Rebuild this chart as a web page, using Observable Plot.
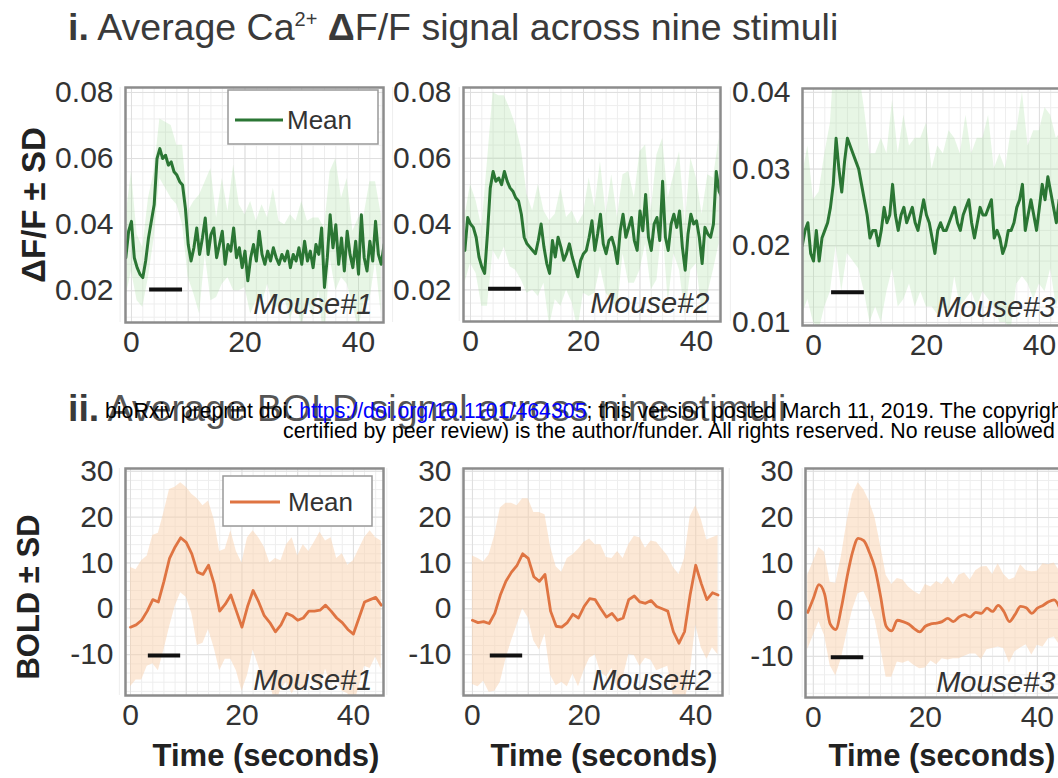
<!DOCTYPE html>
<html><head><meta charset="utf-8">
<script src="https://cdn.jsdelivr.net/npm/d3@7"></script>
<script src="https://cdn.jsdelivr.net/npm/@observablehq/plot@0.6"></script>
<style>
body{margin:0;background:#fff;}
#wrap{position:relative;width:1058px;height:778px;overflow:hidden;background:#fff;}
</style></head><body><div id="wrap"></div>
<script>
const FONT = '"Liberation Sans", Arial, Helvetica, sans-serif';

// ---------------- DATA ----------------
const titleCa = ["i.", " Average Ca", "2+", "Δ", "F/F signal across nine stimuli"];
const titleBold = ["ii.", " Average BOLD signal across nine stimuli"];
const watermark1 = ["bioRxiv preprint doi: ", "https://doi.org/10.1101/464305", "; this version posted March 11, 2019. The copyright holder for this preprint (which was not"];
const watermark2 = "certified by peer review) is the author/funder. All rights reserved. No reuse allowed without permission.";
const yTitleCa = "ΔF/F ± SD";
const yTitleBold = "BOLD ± SD";
const xTitle = "Time (seconds)";
const legendLabel = "Mean";
const mouseLabels = ["Mouse#1", "Mouse#2", "Mouse#3"];
const xTicks = [0, 20, 40];
const yTicksCa12 = [0.02, 0.04, 0.06, 0.08];
const yTicksCa3 = [0.01, 0.02, 0.03, 0.04];
const yTicksBold = [-10, 0, 10, 20, 30];
const stimulus = [3.2, 9.0];          // stimulus period (s), black bar

// Ca2+ dF/F mean, sampled every 0.5 s; SD sampled every 1 s
const caStep = 0.5;
const caStart = [-1, -1, -2];
const ca1Mean = [0.030,0.038,0.041,0.030,0.027,0.025,0.024,0.029,0.036,0.041,
 0.046,0.060,0.063,0.060,0.061,0.058,0.059,0.056,0.055,0.053,
 0.052,0.045,0.034,0.029,0.033,0.039,0.031,0.036,0.042,0.031,
 0.037,0.039,0.030,0.034,0.038,0.028,0.034,0.032,0.039,0.030,
 0.033,0.027,0.032,0.023,0.030,0.034,0.029,0.038,0.031,0.028,
 0.032,0.029,0.033,0.030,0.028,0.031,0.029,0.032,0.027,0.031,
 0.029,0.033,0.028,0.035,0.029,0.032,0.027,0.034,0.031,0.039,
 0.021,0.030,0.043,0.033,0.040,0.028,0.036,0.026,0.038,0.031,
 0.027,0.035,0.025,0.043,0.030,0.026,0.035,0.029,0.041,0.031,
 0.028,0.034];
const ca1SD = [0.012,0.015,0.010,0.009,0.012,0.010,0.009,0.010,0.011,0.009,0.012,0.010,
 0.014,0.018,0.011,0.020,0.012,0.016,0.010,0.019,0.013,0.011,
 0.017,0.012,0.015,0.010,0.018,0.013,0.011,0.016,0.012,0.019,
 0.012,0.015,0.011,0.018,0.013,0.020,0.012,0.016,0.011,0.017,
 0.013,0.018,0.012,0.015];
const ca2Mean = [0.032,0.042,0.040,0.039,0.036,0.030,0.027,0.025,0.037,0.051,
 0.056,0.053,0.054,0.052,0.056,0.053,0.051,0.050,0.048,0.047,
 0.043,0.036,0.034,0.033,0.032,0.031,0.035,0.040,0.033,0.028,
 0.025,0.035,0.030,0.036,0.033,0.029,0.031,0.034,0.030,0.027,
 0.024,0.029,0.031,0.032,0.036,0.041,0.032,0.037,0.043,0.034,
 0.031,0.035,0.036,0.033,0.028,0.038,0.043,0.036,0.039,0.042,
 0.035,0.032,0.044,0.038,0.049,0.036,0.032,0.040,0.042,0.035,
 0.053,0.036,0.032,0.040,0.043,0.039,0.044,0.033,0.026,0.037,
 0.043,0.040,0.041,0.036,0.028,0.039,0.037,0.036,0.040,0.056,
 0.050,0.048];
const ca2SD = [0.010,0.012,0.011,0.012,0.022,0.024,0.025,0.023,0.024,0.022,0.020,0.015,
 0.012,0.017,0.011,0.016,0.013,0.018,0.011,0.014,0.016,0.012,
 0.018,0.013,0.016,0.012,0.019,0.014,0.012,0.017,0.013,0.018,
 0.015,0.012,0.019,0.013,0.016,0.012,0.018,0.014,0.017,0.013,
 0.015,0.018,0.014,0.016];
const ca3Mean = [0.020,0.022,0.023,0.019,0.018,0.022,0.018,0.021,0.022,0.023,
 0.025,0.028,0.034,0.030,0.027,0.031,0.034,0.033,0.032,0.031,
 0.030,0.028,0.026,0.024,0.021,0.022,0.022,0.020,0.022,0.025,
 0.023,0.024,0.028,0.024,0.022,0.024,0.025,0.023,0.024,0.025,
 0.023,0.022,0.024,0.026,0.024,0.023,0.021,0.019,0.022,0.023,
 0.022,0.022,0.023,0.024,0.025,0.023,0.022,0.024,0.025,0.026,
 0.023,0.021,0.023,0.025,0.024,0.024,0.025,0.026,0.021,0.022,
 0.021,0.019,0.020,0.022,0.022,0.023,0.025,0.026,0.028,0.022,
 0.024,0.026,0.024,0.022,0.025,0.028,0.026,0.029,0.027,0.025,
 0.023,0.026,0.025,0.024];
const ca3SD = [0.009,0.010,0.008,0.009,0.010,0.011,0.014,0.013,0.015,0.014,0.013,0.012,0.011,
 0.010,0.012,0.009,0.011,0.010,0.012,0.009,0.011,0.010,
 0.012,0.009,0.011,0.010,0.012,0.009,0.010,0.012,0.009,0.011,
 0.010,0.012,0.009,0.011,0.010,0.013,0.010,0.012,0.009,0.011,
 0.010,0.012,0.010,0.011,0.010];

// BOLD mean and SD, sampled every 1 s
const boldStart = [0, 0, -1];
const bold1Mean = [-4.0,-3.5,-2.5,-0.5,2.0,1.5,6.0,11.0,13.5,15.5,14.5,12.0,8.0,7.5,9.5,5.5,-0.5,1.0,3.0,-0.5,
 -4.0,0.5,4.0,1.5,-1.5,-3.0,-5.0,-3.5,-1.0,-1.5,-2.5,-2.0,-0.5,-0.5,-0.3,0.8,-0.5,-2.0,-3.0,-4.5,
 -5.5,-2.0,1.5,2.0,2.5,0.8];
const bold1SD = [13,12,13,12,14,15,15,15,13,12,12,13,16,15,14,14,13,12,14,13,14,15,13,14,15,13,16,14,15,17,
 14,16,13,15,17,14,16,13,15,14,16,15,14,15,13,14];
const bold2Mean = [-2.5,-3.0,-2.8,-3.2,-1.0,3.0,6.0,8.0,9.5,12.0,11.0,7.0,6.0,7.5,-0.5,-3.8,-4.0,-3.0,-1.2,-2.0,
 0.5,2.2,2.0,0.0,-1.8,-1.0,-2.5,-2.0,2.0,2.8,1.5,1.2,1.8,0.5,0.0,-0.5,-5.0,-7.5,-5.0,3.0,
 9.5,5.5,2.0,3.5,3.0];
const bold2SD = [14,14,13,15,17,19,17,15,13,12,13,14,15,13,14,13,12,14,13,15,14,13,12,14,13,12,15,13,12,13,
 14,12,13,14,13,12,14,15,16,17,13,14,13,12,13];
const bold3Mean = [-0.5,2.5,5.5,3.5,-3.0,-4.2,0.5,7.0,12.5,15.5,15.0,12.5,9.0,3.0,-3.5,-4.5,-2.2,-2.5,-3.0,-4.0,
 -4.7,-3.5,-3.0,-2.8,-2.5,-1.8,-2.5,-1.5,-1.0,-1.5,-0.5,-0.7,0.4,-0.3,1.0,-0.3,-2.5,-1.0,0.8,0.5,
 -0.7,0.4,1.0,1.8,2.2,0.4];
const bold3SD = [8,8,8,9,9,10,11,12,12.5,12,11,11,11,11,11,10,9,9,8,8,8,9,8,9,8,9,8,9,9,8,
 9,10,9,8,9,8,9,8,9,8,9,8,9,8,8,8];

// ---------------- BUILD ----------------
const wrap = document.getElementById("wrap");
const GREEN = "#2b7634", GREEN_BAND = "#9ad992";
const ORANGE = "#df7442", ORANGE_BAND = "#f9d2ad";

function caSeries(mean, sd, start) {
  const line = mean.map((v, i) => ({t: start + i * caStep, v}));
  const band = sd.map((s, i) => ({t: start + i, lo: mean[2 * i] - s, hi: mean[2 * i] + s}))
                 .filter(d => !isNaN(d.lo));
  return {line, band};
}
function boldSeries(mean, sd, start) {
  const line = mean.map((v, i) => ({t: start + i, v}));
  const band = sd.map((s, i) => ({t: start + i, lo: mean[i] - s, hi: mean[i] + s})).filter(d => !isNaN(d.lo));
  return {line, band};
}

function panel(o) {
  const mL = 95, mR = 12, mT = 12, mB = 50;
  const [fx0, fx1, fy0, fy1] = o.frame;
  const w = fx1 - fx0, h = fy1 - fy0;
  const [y0, y1] = o.yDomain;
  const stimY = y0 + o.stimFrac * (y1 - y0);
  const minorY = d3.range(Math.ceil(y0 / o.yMinor) * o.yMinor, y1, o.yMinor);
  const svg = Plot.plot({
    width: w + mL + mR, height: h + mT + mB,
    marginLeft: mL, marginRight: mR, marginTop: mT, marginBottom: mB,
    x: {domain: o.xDomain}, y: {domain: o.yDomain},
    style: {position: "absolute", left: (fx0 - mL) + "px", top: (fy0 - mT) + "px",
            background: "transparent", fontSize: "30px", fontFamily: FONT, color: "#333",
            maxWidth: "none", overflow: "visible"},
    marks: [
      Plot.gridX(d3.range(-2, 47, 2), {stroke: "#eeeeee", strokeOpacity: 1}),
      Plot.gridY(minorY, {stroke: "#eeeeee", strokeOpacity: 1}),
      Plot.gridX(d3.range(0, 46, 10), {stroke: "#dedede", strokeOpacity: 1}),
      Plot.gridY(o.yTicks, {stroke: "#dedede", strokeOpacity: 1}),
      Plot.areaY(o.data.band, {x: "t", y1: "lo", y2: "hi", fill: o.bandColor, fillOpacity: o.bandOpacity, clip: true}),
      Plot.lineY(o.data.line, {x: "t", y: "v", stroke: o.color, strokeWidth: o.lineWidth, clip: true, curve: o.curve || "linear"}),
      Plot.ruleY([{y: stimY, a: stimulus[0], b: stimulus[1]}], {y: "y", x1: "a", x2: "b", stroke: "#111", strokeWidth: 4}),
      Plot.text([o.label], {text: d => d, frameAnchor: "bottom-right", textAnchor: "end", lineAnchor: "bottom",
        dx: -11, dy: o.labelDy, fontSize: 29, fontStyle: "italic", fill: "#333"}),
      Plot.frame({stroke: "#8c8c8c", strokeWidth: 2.5}),
      Plot.axisX(xTicks, {tickSize: 0, tickPadding: 8, label: null, tickFormat: d => String(d)}),
      Plot.axisY(o.yTicks, {tickSize: 0, tickPadding: 12, label: null, tickFormat: o.yFmt})
    ]
  });
  wrap.appendChild(svg);
}

const fmt2 = d => d3.format(".2f")(d);
const fmtInt = d => String(d);
const caData = [caSeries(ca1Mean, ca1SD, caStart[0]), caSeries(ca2Mean, ca2SD, caStart[1]), caSeries(ca3Mean, ca3SD, caStart[2])];
const boldData = [boldSeries(bold1Mean, bold1SD, boldStart[0]), boldSeries(bold2Mean, bold2SD, boldStart[1]), boldSeries(bold3Mean, bold3SD, boldStart[2])];

const caCommon = {color: GREEN, bandColor: GREEN_BAND, bandOpacity: 0.24, lineWidth: 3, stimFrac: 0.14, labelDy: -9, yFmt: fmt2};
panel({...caCommon, data: caData[0], label: mouseLabels[0], frame: [125, 383, 87, 322], xDomain: [-1.05, 44.4], yDomain: [0.0104, 0.0815], yTicks: yTicksCa12, yMinor: 0.004});
panel({...caCommon, data: caData[1], label: mouseLabels[1], frame: [463, 720, 87, 321], xDomain: [-1.24, 44.25], yDomain: [0.0104, 0.0815], yTicks: yTicksCa12, yMinor: 0.004});
panel({...caCommon, data: caData[2], label: mouseLabels[2], frame: [802, 1066, 88, 325], xDomain: [-1.95, 44.8], yDomain: [0.0096, 0.0405], yTicks: yTicksCa3, yMinor: 0.002});

const boldCommon = {color: ORANGE, bandColor: ORANGE_BAND, bandOpacity: 0.5, lineWidth: 2.8, stimFrac: 0.176, labelDy: -6, yFmt: fmtInt, yTicks: yTicksBold, yDomain: [-18.9, 30.6], yMinor: 2};
panel({...boldCommon, data: boldData[0], label: mouseLabels[0], frame: [125, 383, 468, 695], xDomain: [-0.9, 45.4]});
panel({...boldCommon, data: boldData[1], label: mouseLabels[1], frame: [463, 722, 468, 695], xDomain: [-1.6, 44.8]});
panel({...boldCommon, data: boldData[2], label: mouseLabels[2], frame: [805, 1066, 468, 697], xDomain: [-1.4, 45.2], curve: "monotone-x"});

// ---------------- OVERLAY TEXT / LEGENDS ----------------
const ov = d3.create("svg").attr("width", 1058).attr("height", 778)
  .style("position", "absolute").style("left", "0px").style("top", "0px")
  .attr("font-family", FONT);

// Title i
const t1 = ov.append("text").attr("x", 68).attr("y", 40).attr("font-size", 37.5).attr("fill", "#3a3a3a");
t1.append("tspan").attr("font-weight", "bold").text(titleCa[0]);
t1.append("tspan").text(titleCa[1]);
t1.append("tspan").attr("font-size", 20).attr("dy", -14).text(titleCa[2]);
t1.append("tspan").attr("dy", 14).text(" ");
t1.append("tspan").attr("font-weight", "bold").text(titleCa[3]);
t1.append("tspan").text(titleCa[4]);

// Title ii
const t2 = ov.append("text").attr("x", 68).attr("y", 421).attr("font-size", 37.5).attr("fill", "#555");
t2.append("tspan").attr("font-weight", "bold").attr("fill", "#3a3a3a").text(titleBold[0]);
t2.append("tspan").text(titleBold[1]);

// bioRxiv watermark (overlaps the panel title in the original)
const w1 = ov.append("text").attr("x", 105).attr("y", 418).attr("font-size", 21.3).attr("fill", "#000");
w1.append("tspan").text(watermark1[0]);
w1.append("tspan").attr("fill", "#0000ff").text(watermark1[1]);
w1.append("tspan").text(watermark1[2]);
ov.append("text").attr("x", 283).attr("y", 438).attr("font-size", 21.3).attr("fill", "#000").text(watermark2);

// y titles
ov.append("text").attr("transform", "translate(45,205) rotate(-90)").attr("text-anchor", "middle")
  .attr("font-size", 33).attr("font-weight", "bold").attr("fill", "#222").text(yTitleCa);
ov.append("text").attr("transform", "translate(39,597) rotate(-90)").attr("text-anchor", "middle")
  .attr("font-size", 31).attr("font-weight", "bold").attr("fill", "#222").text(yTitleBold);

// x titles
[266, 604, 942].forEach(cx => {
  ov.append("text").attr("x", cx).attr("y", 766).attr("text-anchor", "middle")
    .attr("font-size", 31).attr("font-weight", "bold").attr("fill", "#222").text(xTitle);
});

// legends
function legend(x, y, w, h, color, lineY, lx0, lx1, tx) {
  ov.append("rect").attr("x", x).attr("y", y).attr("width", w).attr("height", h)
    .attr("fill", "#fff").attr("stroke", "#999").attr("stroke-width", 1.5);
  ov.append("line").attr("x1", lx0).attr("x2", lx1).attr("y1", lineY).attr("y2", lineY)
    .attr("stroke", color).attr("stroke-width", 3);
  ov.append("text").attr("x", tx).attr("y", lineY + 9).attr("font-size", 26).attr("fill", "#333").text(legendLabel);
}
legend(228, 90, 150, 54, GREEN, 120, 235, 283, 287);
legend(223, 476, 149, 50, ORANGE, 502, 230, 280, 288);

wrap.appendChild(ov.node());
</script></body></html>
